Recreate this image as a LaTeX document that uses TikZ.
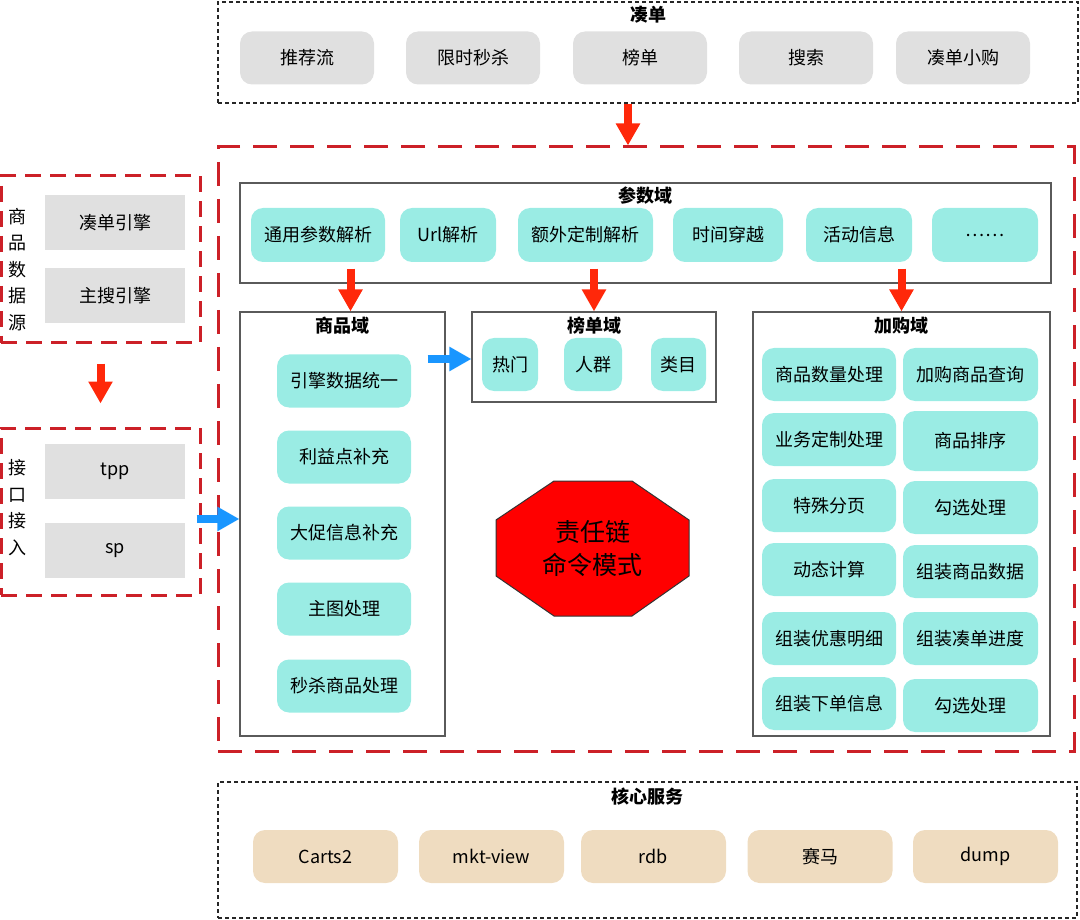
\documentclass[tikz,border=0pt]{standalone}
\usepackage{fontspec}
\setmainfont{Noto Sans CJK SC}
\usetikzlibrary{arrows.meta,calc}

\definecolor{cellgray}{RGB}{224,224,224}
\definecolor{cellteal}{RGB}{154,236,228}
\definecolor{celltan}{RGB}{239,220,192}
\definecolor{dashred}{RGB}{204,32,40}
\definecolor{arrowred}{RGB}{255,40,10}
\definecolor{arrowblue}{RGB}{25,150,255}
\definecolor{panelgray}{RGB}{90,90,90}

\newcommand{\cellfont}{\fontsize{18pt}{21pt}\selectfont}

\begin{document}
\begin{tikzpicture}[x=1pt, y=-1pt,
	cell/.style={rounded corners=12pt, inner sep=0pt, minimum height=53pt, font=\cellfont, text=black},
	graycell/.style={cell, fill=cellgray, minimum width=134pt},
	tealcell/.style={cell, fill=cellteal, minimum width=134pt},
	tancell/.style={cell, fill=celltan, minimum width=145pt},
	srccell/.style={inner sep=0pt, fill=cellgray, minimum width=140pt, minimum height=55pt, font=\cellfont, text=black},
	panel/.style={draw=panelgray, line width=1.2pt, inner sep=0pt},
	blackbox/.style={draw=black!85, line width=1.4pt, dash pattern=on 4pt off 3pt, inner sep=0pt},
	redbox/.style={draw=dashred, line width=3pt, inner sep=0pt},
	title/.style={font=\cellfont\bfseries, inner sep=0pt},
	vlabel/.style={align=center, inner sep=0pt, font=\fontsize{18pt}{26.5pt}\selectfont, text=black},
	redarrow/.style={arrowred, line width=8pt, -{Triangle[width=23pt,length=22pt]}},
	bluearrow/.style={arrowblue, line width=8pt, -{Triangle[width=23pt,length=22pt]}}]

	\useasboundingbox (0,0) rectangle (1080,920);

	% ============ TOP: 凑单 ============

	\node[blackbox, minimum width=860pt, minimum height=101pt] (zd) at (648,52.5) {};
	\node[title] (zd_t) at (648,15) {凑单};
	\foreach \n/\x/\t in {zd1/307/推荐流, zd2/473/限时秒杀, zd3/640/榜单, zd4/806/搜索, zd5/963/凑单小购} {
		\node[graycell] (\n) at (\x,58) {\t};
	}

	% ============ MAIN: 责任链 ============

	\node[redbox, dash pattern=on 24pt off 13pt, minimum width=856pt, minimum height=604pt] (main) at (646,449) {};

	% 参数域
	\node[panel, minimum width=811pt, minimum height=100pt] (param) at (645.5,233) {};
	\node[title] (param_t) at (645.5,196) {参数域};
	\foreach \n/\x/\w/\t in {p1/318/134/通用参数解析, p2/448/96/Url解析, p3/585.5/135/额外定制解析,
		p4/728/110/时间穿越, p5/859/106/活动信息, p6/985/106/……} {
		\node[tealcell, minimum width=\w pt, minimum height=54pt] (\n) at (\x,235) {\t};
	}

	% 商品域
	\node[panel, minimum width=205pt, minimum height=424pt] (sp) at (342.5,524) {};
	\node[title] (sp_t) at (342.5,326) {商品域};
	\foreach \n/\y/\t in {s1/381/引擎数据统一, s2/457/利益点补充, s3/533/大促信息补充, s4/609/主图处理, s5/686/秒杀商品处理} {
		\node[tealcell] (\n) at (344,\y) {\t};
	}

	% 榜单域
	\node[panel, minimum width=244pt, minimum height=90pt] (bd) at (594,357) {};
	\node[title] (bd_t) at (594,326) {榜单域};
	\foreach \n/\x/\w/\t in {b1/510/56/热门, b2/593/58/人群, b3/678.5/55/类目} {
		\node[tealcell, minimum width=\w pt] (\n) at (\x,364.5) {\t};
	}

	% 加购域
	\node[panel, minimum width=297pt, minimum height=424pt] (jg) at (901.5,524) {};
	\node[title] (jg_t) at (901.5,326) {加购域};
	\foreach \n/\y/\t in {jl1/374.5/商品数量处理, jl2/439.5/业务定制处理, jl3/505.5/特殊分页,
		jl4/569.5/动态计算, jl5/638.5/组装优惠明细, jl6/703.5/组装下单信息} {
		\node[tealcell] (\n) at (829,\y) {\t};
	}
	\foreach \n/\y/\t in {jr1/374.5/加购商品查询, jr3/507.5/勾选处理, jr4/571.5/组装商品数据,
		jr5/638.5/组装凑单进度, jr6/705.5/勾选处理} {
		\node[tealcell, minimum width=135pt] (\n) at (970.5,\y) {\t};
	}
	\node[tealcell, minimum width=135pt, minimum height=60pt] (jr2) at (970.5,441) {商品排序};

	% 责任链 octagon
	\draw[fill=red, draw=black!80, line width=1pt] (554,481) -- (632,481) -- (689,520) -- (689,576)
		-- (632,616) -- (554,616) -- (496,576) -- (496,520) -- cycle;
	\node[align=center, inner sep=0pt, font=\fontsize{25pt}{33pt}\selectfont, text=black] (chain) at (592.5,549) {责任链\\命令模式};

	% ============ LEFT: 数据源 / 接口 ============

	\node[redbox, dash pattern=on 16pt off 9pt, minimum width=199pt, minimum height=167pt] (src) at (100.5,259.5) {};
	\node[vlabel] (src_t) at (18,269.5) {商\\品\\数\\据\\源};
	\node[srccell] (src1) at (115,222.5) {凑单引擎};
	\node[srccell] (src2) at (115,295.5) {主搜引擎};

	\node[redbox, dash pattern=on 16pt off 9pt, minimum width=199pt, minimum height=167pt] (api) at (100.5,511.5) {};
	\node[vlabel] (api_t) at (18,507.5) {接\\口\\接\\入};
	\node[srccell] (api1) at (115,471.5) {tpp};
	\node[srccell] (api2) at (115,550.5) {sp};

	% ============ BOTTOM: 核心服务 ============

	\node[blackbox, minimum width=859pt, minimum height=136pt] (core) at (647.5,850) {};
	\node[title] (core_t) at (647.5,797) {核心服务};
	\foreach \n/\x/\t in {c1/325.5/Carts2, c2/491.5/mkt-view, c3/653.5/rdb, c4/820/赛马, c5/985.5/dump} {
		\node[tancell] (\n) at (\x,856.5) {\t};
	}

	% ============ ARROWS ============

	\draw[redarrow] ($(zd.south)+(-20,0)$) -- ($(zd.south |- main.north)+(-20,0)$);
	\draw[redarrow] ($(param.south -| sp.north)+(8,-15)$) -- ($(sp.north)+(8,0)$);
	\draw[redarrow] ($(param.south -| bd.north)+(0,-15)$) -- (bd.north);
	\draw[redarrow] ($(param.south -| jg.north)+(0,-15)$) -- (jg.north);
	\draw[redarrow, shorten <=19pt, shorten >=23pt] (src.south) -- (api.north);

	\draw[bluearrow] ($(sp.east |- bd.west)+(-18,2)$) -- ($(bd.west)+(0,2)$);
	\draw[bluearrow] ($(api.east)+(-5,7.5)$) -- ($(api.east -| sp.west)+(0,7.5)$);

\end{tikzpicture}
\end{document}
